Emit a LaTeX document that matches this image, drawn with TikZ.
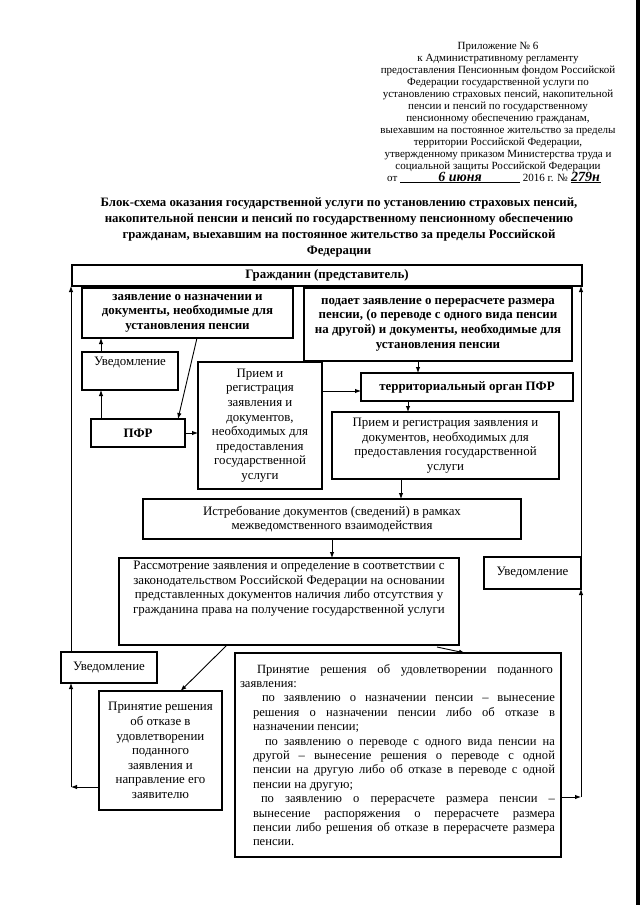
\documentclass[tikz,border=0pt]{standalone}
\usepackage{fontspec}
\setmainfont{Liberation Serif}
\usetikzlibrary{arrows.meta,calc}
\newcommand\hdrfont{\fontsize{11}{12}\selectfont}
\newcommand\ttlfont{\fontsize{12.8}{16.2}\selectfont\bfseries}
\newcommand\bxfont{\fontsize{12.9}{14.6}\selectfont}
\newcommand\pb[4]{\parbox[c][#2pt][#3]{#1pt}{\centering #4}}
\newcommand\jl[2]{\makebox[#1pt][s]{#2}}
\begin{document}
\begin{tikzpicture}[x=1pt,y=-1pt,
  bx/.style={draw,line width=1.1pt,inner sep=0pt,outer sep=0pt,font=\bxfont},
  bbx/.style={bx,font=\bxfont\bfseries},
  arr/.style={line width=0.9pt,-{Latex[length=6pt,width=4.5pt]}},
  txt/.style={inner sep=0pt,align=center}]
\useasboundingbox (0,0) rectangle (640,905);
\fill[black] (636,0) rectangle (640,905);

% header
\node[txt,font=\hdrfont,anchor=north] (hdr) at (498,42) {Приложение № 6\\
к Административному регламенту\\
предоставления Пенсионным фондом Российской\\
Федерации государственной услуги по\\
установлению страховых пенсий, накопительной\\
пенсии и пенсий по государственному\\
пенсионному обеспечению гражданам,\\
выехавшим на постоянное жительство за пределы\\
территории Российской Федерации,\\
утвержденному приказом Министерства труда и\\
социальной защиты Российской Федерации};
\node[txt,font=\hdrfont,anchor=base west] (ot) at (387,181) {от \underline{\makebox[120pt]{\fontsize{14}{14}\selectfont\itshape\bfseries 6 июня}} 2016 г. № \underline{\makebox[30pt]{\fontsize{14}{14}\selectfont\itshape\bfseries 279н}}};

% title
\node[txt,font=\ttlfont,anchor=north] (ttl) at (339,197) {Блок-схема оказания государственной услуги по установлению страховых пенсий,\\
накопительной пенсии и пенсий по государственному пенсионному обеспечению\\
гражданам, выехавшим на постоянное жительство за пределы Российской\\
Федерации};

% boxes
\node[bbx] (grazh) at (327,275.5) {\pb{510}{21}{c}{Гражданин (представитель)}};
\node[bbx] (zayav) at (187.5,313) {\pb{211}{50}{c}{заявление о назначении и\\ документы, необходимые для\\ установления пенсии}};
\node[bbx] (podaet) at (438,324.5) {\pb{268}{73}{c}{подает заявление о перерасчете размера\\ пенсии, (о переводе с одного вида пенсии\\ на другой) и документы, необходимые для\\ установления пенсии}};
\node[bx] (uv1) at (130,371) {\pb{96}{38}{t}{\vspace{5pt}Уведомление}};
\node[bbx] (pfr) at (138,433) {\pb{94}{28}{c}{ПФР}};
\node[bx] (priem1) at (260,425.5) {\pb{124}{127}{c}{Прием и\\ регистрация\\ заявления и\\ документов,\\ необходимых для\\ предоставления\\ государственной\\ услуги}};
\node[bbx] (terr) at (467,387) {\pb{212}{28}{c}{территориальный орган ПФР}};
\node[bx] (priem2) at (445.5,445.5) {\pb{227}{67}{c}{Прием и регистрация заявления и\\ документов, необходимых для\\ предоставления государственной\\ услуги}};
\node[bx] (istr) at (332,519) {\pb{378}{40}{c}{Истребование документов (сведений) в рамках\\ межведомственного взаимодействия}};
\node[bx] (rassm) at (289,601.5) {\pb{340}{87}{t}{\vspace{3pt}Рассмотрение заявления и определение в соответствии с\\ законодательством Российской Федерации на основании\\ представленных документов наличия либо отсутствия у\\ гражданина права на получение государственной услуги}};
\node[bx] (uv2) at (532.5,573) {\pb{97}{32}{c}{Уведомление}};
\node[bx] (uv3) at (109,667.5) {\pb{96}{31}{c}{Уведомление}};
\node[bx] (otkaz) at (160.5,750.5) {\pb{123}{119}{c}{Принятие решения\\ об отказе в\\ удовлетворении\\ поданного\\ заявления и\\ направление его\\ заявителю}};
\node[bx,font=\fontsize{12.6}{14.4}\selectfont] (udovl) at (398,755) {\parbox[c][204pt][c]{326pt}{%
\hspace*{5pt}\jl{313}{\hspace*{17pt}Принятие решения об удовлетворении поданного}\\
\hspace*{5pt}заявления:\\
\hspace*{18pt}\jl{302}{\hspace*{9pt}по заявлению о назначении пенсии – вынесение}\\
\hspace*{18pt}\jl{302}{решения о назначении пенсии либо об отказе в}\\
\hspace*{18pt}назначении пенсии;\\
\hspace*{18pt}\jl{302}{\hspace*{12pt}по заявлению о переводе с одного вида пенсии на}\\
\hspace*{18pt}\jl{302}{другой – вынесение решения о переводе с одной}\\
\hspace*{18pt}\jl{302}{пенсии на другую либо об отказе в переводе с одной}\\
\hspace*{18pt}пенсии на другую;\\
\hspace*{18pt}\jl{302}{\hspace*{8pt}по заявлению о перерасчете размера пенсии –}\\
\hspace*{18pt}\jl{302}{вынесение распоряжения о перерасчете размера}\\
\hspace*{18pt}\jl{302}{пенсии либо решения об отказе в перерасчете размера}\\
\hspace*{18pt}пенсии.}};

% connector anchor points
\coordinate (L) at (71,0);
\coordinate (A) at (101,0);
\coordinate (R) at (581,797);
\coordinate (B) at (71,787);
\coordinate (c1) at ($(zayav.south)+(9.5,0)$);
\coordinate (c2) at ($(pfr.north)+(40,0)$);
\coordinate (c3) at ($(podaet.south)+(-20,0)$);
\coordinate (c4) at ($(priem1.east)+(0,-34.5)$);
\coordinate (c5) at ($(terr.south)+(-59,0)$);
\coordinate (c6) at ($(priem2.south)+(-44.5,0)$);
\coordinate (c7) at ($(rassm.south)+(-62,0)$);
\coordinate (c8) at ($(otkaz.north)+(20,0)$);
\coordinate (c9) at ($(rassm.south)+(148,2)$);
\coordinate (c10) at ($(udovl.north)+(67,0)$);

% connectors
\draw[arr] (uv3.north -| L) -- (grazh.south -| L);
\draw[arr] (uv1.north -| A) -- (zayav.south -| A);
\draw[arr] (pfr.north -| A) -- (uv1.south -| A);
\draw[arr] (c1) -- (c2);
\draw[arr] (pfr.east) -- (pfr.east -| priem1.west);
\draw[arr] (c3) -- (c3 |- terr.north);
\draw[arr] (c4) -- (c4 -| terr.west);
\draw[arr] (c5) -- (c5 |- priem2.north);
\draw[arr] (c6) -- (c6 |- istr.north);
\draw[arr] (istr.south) -- (istr.south |- rassm.north);
\draw[arr] (c7) -- (c8);
\draw[arr] (c9) -- (c10);
\draw[arr] (otkaz.west |- B) -- (B);
\draw[arr] (B) -- (uv3.south -| B);
\draw[arr] (udovl.east |- R) -- (R);
\draw[arr] (R) -- (R |- uv2.south);
\draw[arr] (R |- uv2.south) -- (R |- grazh.south);
\end{tikzpicture}
\end{document}
